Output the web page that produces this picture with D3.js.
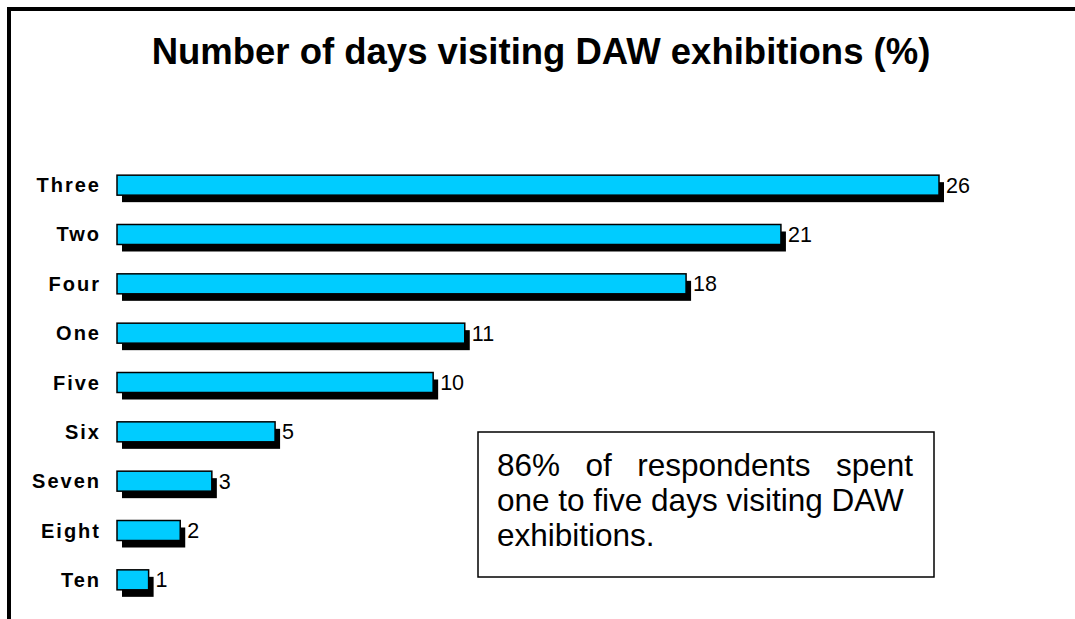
<!DOCTYPE html>
<html>
<head>
<meta charset="utf-8">
<script src="https://cdn.jsdelivr.net/npm/d3@7"></script>
<style>
  html, body { margin: 0; padding: 0; background: #fff; }
  svg { display: block; font-family: Arial, "Liberation Sans", sans-serif; }
</style>
</head>
<body>
<svg id="chart" width="1075" height="619"></svg>
<script>
const categories = ["Three", "Two", "Four", "One", "Five", "Six", "Seven", "Eight", "Ten"];
const values = [26, 21, 18, 11, 10, 5, 3, 2, 1];
const titleText = "Number of days visiting DAW exhibitions (%)";
const noteLines = ["86% of respondents spent", "one to five days visiting DAW", "exhibitions."];

(function () {
const svg = d3.select("#chart");

// frame (top and left edges)
svg.append("path")
  .attr("d", "M9,619 V9 H1075")
  .attr("fill", "none").attr("stroke", "#000").attr("stroke-width", 4);

// title
svg.append("text")
  .attr("x", 541).attr("y", 64)
  .attr("text-anchor", "middle")
  .attr("font-size", 36.5).attr("font-weight", "bold")
  .text(titleText);

const x = d3.scaleLinear().domain([0, 26]).range([117, 939]);
const y = d3.scaleBand().domain(categories).range([160, 605]).paddingInner(0.58).paddingOuter(0.3);

const g = svg.append("g");
const bh = 20;
const yc = d => y(d) + y.bandwidth() / 2;

// shadows
g.selectAll("rect.shadow").data(categories).enter().append("rect")
  .attr("class", "shadow")
  .attr("x", x(0) + 5)
  .attr("y", d => yc(d) - bh / 2 + 7)
  .attr("width", (d, i) => x(values[i]) - x(0))
  .attr("height", bh)
  .attr("fill", "#000");

// bars
g.selectAll("rect.bar").data(categories).enter().append("rect")
  .attr("class", "bar")
  .attr("x", x(0))
  .attr("y", d => yc(d) - bh / 2)
  .attr("width", (d, i) => x(values[i]) - x(0))
  .attr("height", bh)
  .attr("fill", "#00ccff")
  .attr("stroke", "#000").attr("stroke-width", 1.5);

// category labels
g.selectAll("text.cat").data(categories).enter().append("text")
  .attr("class", "cat")
  .attr("x", 101)
  .attr("y", d => yc(d) + 7)
  .attr("text-anchor", "end")
  .attr("font-size", 20).attr("font-weight", "bold")
  .attr("letter-spacing", 2)
  .text(d => d);

// value labels
g.selectAll("text.val").data(categories).enter().append("text")
  .attr("class", "val")
  .attr("x", (d, i) => x(values[i]) + 7)
  .attr("y", d => yc(d) + 7.5)
  .attr("font-size", 21.5)
  .text((d, i) => values[i]);

// annotation box
svg.append("rect")
  .attr("x", 478).attr("y", 432).attr("width", 456).attr("height", 145)
  .attr("fill", "#fff").attr("stroke", "#000").attr("stroke-width", 1.5);

const left = 497, right = 913, fs = 31.5, lh = 35, top0 = 476;
noteLines.forEach((line, li) => {
  const yy = top0 + li * lh;
  if (li === 0) {
    const words = line.split(" ");
    const tmp = svg.append("g");
    const widths = words.map(w => {
      const t = tmp.append("text").attr("font-size", fs).text(w);
      return t.node().getComputedTextLength();
    });
    tmp.remove();
    const total = d3.sum(widths);
    const gap = (right - left - total) / (words.length - 1);
    let cx = left;
    words.forEach((w, i) => {
      svg.append("text").attr("x", cx).attr("y", yy).attr("font-size", fs).text(w);
      cx += widths[i] + gap;
    });
  } else {
    svg.append("text").attr("x", left).attr("y", yy).attr("font-size", fs).text(line);
  }
});
})();
</script>
</body>
</html>
